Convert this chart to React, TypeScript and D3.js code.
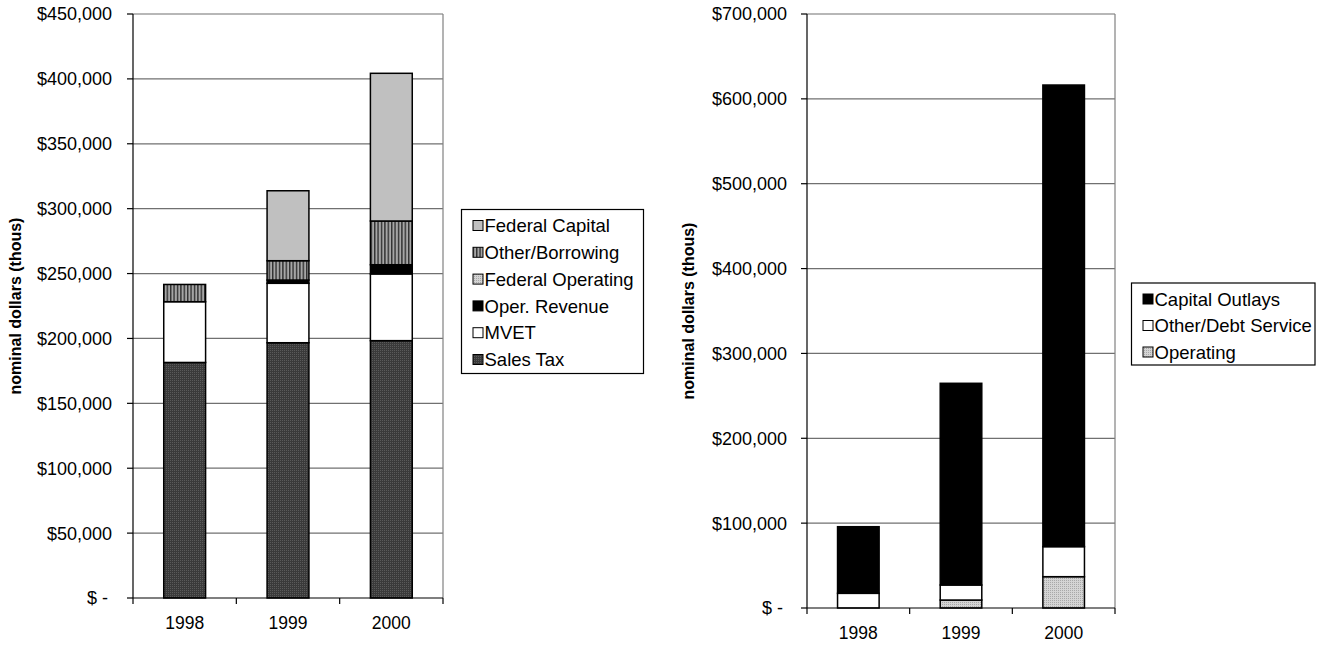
import React from "react";
import * as d3 from "d3";

// Funding sources (thousands of nominal dollars), stacked bottom to top
const years = ["1998", "1999", "2000"];
const salesTax = [181500, 196700, 198300];
const mvet = [46800, 45800, 51400];
const operRevenue = [0, 2500, 7100];
const federalOperating = [0, 0, 0];
const otherBorrowing = [13300, 14900, 33700];
const federalCapital = [0, 53900, 113800];

// Uses of funds (thousands of nominal dollars), stacked bottom to top
const operating = [0, 9400, 36900];
const otherDebtService = [17300, 17700, 35400];
const capitalOutlays = [78500, 237700, 544000];

const leftTicks = [0, 50000, 100000, 150000, 200000, 250000, 300000, 350000, 400000, 450000];
const rightTicks = [0, 100000, 200000, 300000, 400000, 500000, 600000, 700000];

const FONT = "'Liberation Sans', Arial, Helvetica, sans-serif";

type Series = { name: string; values: number[]; fill: string };

const sourcesSeries: Series[] = [
  { name: "Sales Tax", values: salesTax, fill: "url(#dots-dark)" },
  { name: "MVET", values: mvet, fill: "#ffffff" },
  { name: "Oper. Revenue", values: operRevenue, fill: "#000000" },
  { name: "Federal Operating", values: federalOperating, fill: "url(#dots-light)" },
  { name: "Other/Borrowing", values: otherBorrowing, fill: "url(#stripes)" },
  { name: "Federal Capital", values: federalCapital, fill: "#c0c0c0" },
];

const usesSeries: Series[] = [
  { name: "Operating", values: operating, fill: "url(#dots-light)" },
  { name: "Other/Debt Service", values: otherDebtService, fill: "#ffffff" },
  { name: "Capital Outlays", values: capitalOutlays, fill: "#000000" },
];

const money = d3.format(",");
const fmtTick = (v: number) => (v === 0 ? "$ -" : "$" + money(v));

type ChartProps = {
  series: Series[];
  ticks: number[];
  x0: number;
  x1: number;
  yBottom: number;
  yTop: number;
  titleX: number;
  labelRight: number;
  yearBaseline: number;
  legend: { x: number; y: number; w: number; h: number; first: number; gap: number };
};

function StackedChart(p: ChartProps) {
  const x = d3
    .scaleBand<string>()
    .domain(years)
    .range([p.x0, p.x1])
    .paddingInner(0.595)
    .paddingOuter(0.2975);
  const y = d3
    .scaleLinear()
    .domain([0, p.ticks[p.ticks.length - 1]])
    .range([p.yBottom, p.yTop]);

  const rows = years.map((yr, i) => {
    const r: Record<string, number | string> = { year: yr };
    p.series.forEach((s) => (r[s.name] = s.values[i]));
    return r;
  });
  const stacked = d3
    .stack<Record<string, number | string>>()
    .keys(p.series.map((s) => s.name))
    .value((d, k) => d[k] as number)(rows);

  const step = x.step();
  const boundaries = d3.range(years.length + 1).map((i) => p.x0 + i * step);
  const legendItems = [...p.series].reverse();

  return (
    <g fontFamily={FONT}>
      {/* gridlines */}
      {p.ticks
        .filter((t) => t > 0)
        .map((t) => (
          <line key={"g" + t} x1={p.x0} x2={p.x1} y1={y(t)} y2={y(t)} stroke="#707070" strokeWidth={1.2} />
        ))}
      {/* plot-area right border */}
      <line x1={p.x1} x2={p.x1} y1={p.yTop} y2={p.yBottom} stroke="#808080" strokeWidth={1.2} />

      {/* bars */}
      {stacked.map((layer, li) =>
        layer.map((seg, i) => {
          const h = y(seg[0]) - y(seg[1]);
          if (h <= 0) return null;
          return (
            <rect
              key={li + "-" + i}
              x={x(years[i])}
              y={y(seg[1])}
              width={x.bandwidth()}
              height={h}
              fill={p.series[li].fill}
              stroke="#000"
              strokeWidth={1.5}
            />
          );
        })
      )}

      {/* axes */}
      <line x1={p.x0} x2={p.x0} y1={p.yTop} y2={p.yBottom} stroke="#000" strokeWidth={1.2} />
      <line x1={p.x0} x2={p.x1} y1={p.yBottom} y2={p.yBottom} stroke="#000" strokeWidth={1.2} />
      {p.ticks.map((t) => (
        <g key={"t" + t}>
          <line x1={p.x0 - 6} x2={p.x0} y1={y(t)} y2={y(t)} stroke="#000" strokeWidth={1.2} />
          <text
            x={t === 0 ? p.labelRight - 4 : p.labelRight}
            y={y(t)}
            dy="0.36em"
            textAnchor="end"
            fontSize={18}
            fill="#000"
            style={{ whiteSpace: "pre" }}
          >
            {fmtTick(t)}
          </text>
        </g>
      ))}
      {boundaries.map((bx, i) => (
        <line key={"xb" + i} x1={bx} x2={bx} y1={p.yBottom} y2={p.yBottom + 6} stroke="#000" strokeWidth={1.2} />
      ))}
      {years.map((yr) => (
        <text
          key={"xl" + yr}
          x={(x(yr) as number) + x.bandwidth() / 2}
          y={p.yearBaseline}
          textAnchor="middle"
          fontSize={17.5}
          fill="#000"
        >
          {yr}
        </text>
      ))}

      {/* axis title */}
      <text
        transform={`translate(${p.titleX},${(p.yTop + p.yBottom) / 2}) rotate(-90)`}
        textAnchor="middle"
        dy="0.35em"
        fontSize={16}
        fontWeight="bold"
        fill="#000"
      >
        nominal dollars (thous)
      </text>

      {/* legend */}
      <rect x={p.legend.x} y={p.legend.y} width={p.legend.w} height={p.legend.h} fill="#fff" stroke="#000" strokeWidth={1.2} />
      {legendItems.map((s, i) => {
        const cy = p.legend.first + i * p.legend.gap;
        return (
          <g key={"lg" + s.name}>
            <rect x={p.legend.x + 11.5} y={cy - 5} width={10} height={10} fill={s.fill} stroke="#000" strokeWidth={1} />
            <text x={p.legend.x + 23} y={cy} dy="0.36em" fontSize={18.5} fill="#000">
              {s.name}
            </text>
          </g>
        );
      })}
    </g>
  );
}

export default function App() {
  return (
    <svg
      width={1325}
      height={646}
      viewBox="0 0 1325 646"
      style={{ position: "absolute", left: 0, top: 0, background: "#fff" }}
    >
      <defs>
        <pattern id="dots-dark" width={2} height={2} patternUnits="userSpaceOnUse">
          <rect width={2} height={2} fill="#3a3a3a" />
          <rect width={1} height={1} fill="#5a5a5a" />
        </pattern>
        <pattern id="dots-light" width={2} height={2} patternUnits="userSpaceOnUse">
          <rect width={2} height={2} fill="#d4d4d4" />
          <rect width={1} height={1} fill="#a8a8a8" />
        </pattern>
        <pattern id="stripes" width={3.4} height={4} patternUnits="userSpaceOnUse">
          <rect width={3.4} height={4} fill="#a6a6a6" />
          <rect width={1.4} height={4} fill="#303030" />
        </pattern>
      </defs>
      <rect width={1325} height={646} fill="#fff" />
      <StackedChart
        series={sourcesSeries}
        ticks={leftTicks}
        x0={133}
        x1={443}
        yBottom={598}
        yTop={14}
        titleX={15}
        labelRight={112}
        yearBaseline={629}
        legend={{ x: 461.5, y: 209.5, w: 182, h: 164, first: 225.5, gap: 26.8 }}
      />
      <StackedChart
        series={usesSeries}
        ticks={rightTicks}
        x0={807}
        x1={1115}
        yBottom={608}
        yTop={14}
        titleX={688}
        labelRight={787}
        yearBaseline={639}
        legend={{ x: 1131.5, y: 283, w: 183.5, h: 82, first: 299, gap: 26.5 }}
      />
    </svg>
  );
}
